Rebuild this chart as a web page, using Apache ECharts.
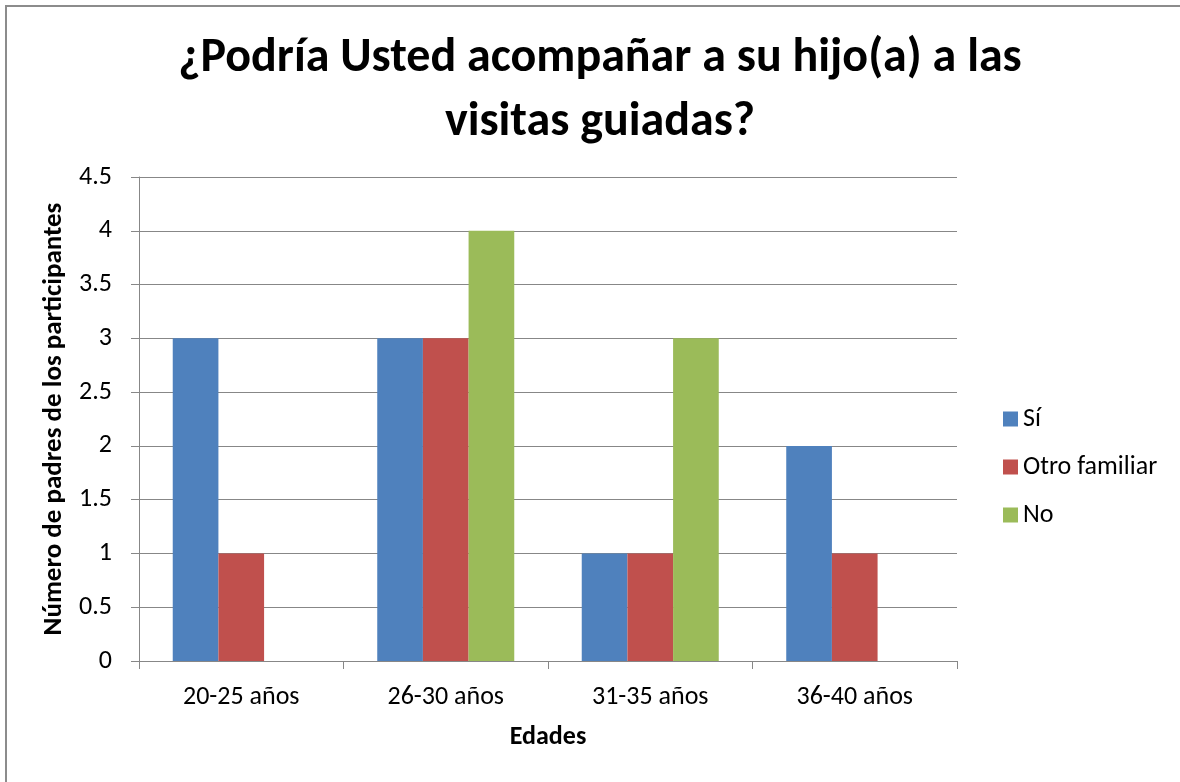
<!DOCTYPE html>
<html>
<head>
<meta charset="utf-8">
<title>Visitas guiadas</title>
<script src="https://cdn.jsdelivr.net/npm/echarts@6/dist/echarts.min.js"></script>
<style>
    html, body { margin: 0; padding: 0; background: #fff; }
    #chart { width: 1180px; height: 782px; }
</style>
</head>
<body>
<div id="chart"></div>
<script>
// Data
var categorias = ['20-25 años', '26-30 años', '31-35 años', '36-40 años'];
var serieNombres = ['Sí', 'Otro familiar', 'No'];
var valoresSi = [3, 3, 1, 2];
var valoresOtro = [1, 3, 1, 1];
var valoresNo = [0, 4, 3, 0];
var colores = ['#4F81BD', '#C0504D', '#9BBB59'];

var fuente = 'Carlito, Lato, sans-serif';
var gris = '#878787';

var chart = echarts.init(document.getElementById('chart'));

chart.setOption({
    color: colores,
    animation: false,
    textStyle: { fontFamily: fuente },

    // Title
    title: {
        text: '¿Podría Usted acompañar a su hijo(a) a las\nvisitas guiadas?',
        left: 595,
        top: 22,
        textAlign: 'center',
        textStyle: {
            fontFamily: fuente,
            fontSize: 48,
            fontWeight: 'bold',
            color: '#000',
            lineHeight: 64
        }
    },

    // Outer frame (only top and left edges visible)
    graphic: [{
        type: 'polyline',
        shape: { points: [[6, 782], [6, 6], [1180, 6]] },
        style: { stroke: '#8c8c8c', lineWidth: 2, fill: null },
        silent: true
    }],

    // Legend
    legend: {
        orient: 'vertical',
        left: 998,
        top: 401,
        itemWidth: 15,
        itemHeight: 15,
        itemGap: 22,
        icon: 'rect',
        data: serieNombres,
        textStyle: { fontFamily: fuente, fontSize: 26, color: '#000' }
    },

    grid: {
        left: 139,
        right: 223,
        top: 177,
        bottom: 121,
        containLabel: false
    },

    xAxis: [{
        type: 'category',
        data: categorias,
        name: 'Edades',
        nameLocation: 'middle',
        nameGap: 63,
        nameTextStyle: { fontFamily: fuente, fontSize: 26, fontWeight: 'bold', color: '#000' },
        axisLine: { lineStyle: { color: gris, width: 1 } },
        axisTick: { show: true, length: 8, inside: false, lineStyle: { color: gris } },
        axisLabel: { fontFamily: fuente, fontSize: 26, color: '#000', margin: 23 },
        splitLine: { show: false }
    }],

    yAxis: [{
        type: 'value',
        min: 0,
        max: 4.5,
        interval: 0.5,
        name: 'Número de padres de los participantes',
        nameLocation: 'middle',
        nameGap: 57,
        nameTextStyle: { fontFamily: fuente, fontSize: 27, fontWeight: 'bold', color: '#000' },
        axisLine: { show: true, lineStyle: { color: gris, width: 1 } },
        axisTick: { show: true, length: 8, lineStyle: { color: gris } },
        axisLabel: { fontFamily: fuente, fontSize: 26, color: '#000', margin: 27 },
        splitLine: { show: true, lineStyle: { color: gris, width: 1 } }
    }],

    series: [
        {
            name: serieNombres[0],
            type: 'bar',
            data: valoresSi,
            barGap: '0%',
            barCategoryGap: '33%'
        },
        {
            name: serieNombres[1],
            type: 'bar',
            data: valoresOtro,
            barGap: '0%',
            barCategoryGap: '33%'
        },
        {
            name: serieNombres[2],
            type: 'bar',
            data: valoresNo,
            barGap: '0%',
            barCategoryGap: '33%'
        }
    ]
});
</script>
</body>
</html>
